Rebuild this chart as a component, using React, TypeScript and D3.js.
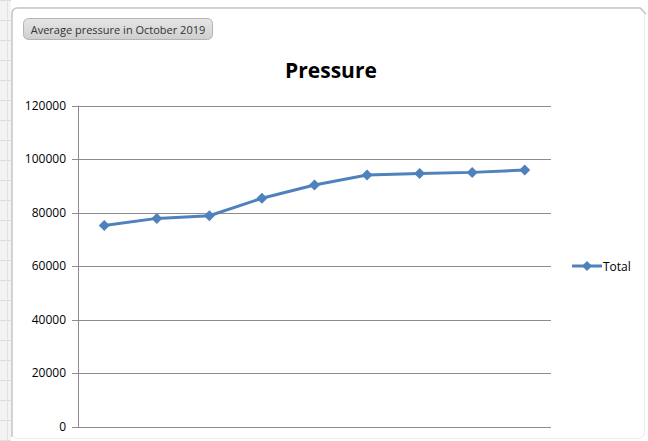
import React from "react";
import * as d3 from "d3";

const categories = ["1", "2", "3", "4", "5", "6", "7", "8", "9"];
const totalValues = [75100, 77800, 78800, 85300, 90300, 94000, 94600, 95000, 95900];
const yTicks = [0, 20000, 40000, 60000, 80000, 100000, 120000];
const seriesName = "Total";
const chartTitle = "Pressure";
const buttonLabel = "Average pressure in October 2019";

const W = 648;
const H = 441;
const plot = { left: 78, right: 551, top: 105.5, bottom: 426.5 };
const blue = "#4f81bd";
const font = "'Open Sans', 'DejaVu Sans', sans-serif";

function diamond(cx: number, cy: number, r: number) {
  return `M${cx},${cy - r}L${cx + r},${cy}L${cx},${cy + r}L${cx - r},${cy}Z`;
}

export default function App() {
  const x = d3.scaleBand<string>().domain(categories).range([plot.left, plot.right]);
  const y = d3.scaleLinear().domain([0, 120000]).range([plot.bottom, plot.top]);
  const line = d3
    .line<number>()
    .x((_, i) => (x(categories[i]) as number) + x.bandwidth() / 2)
    .y((d) => y(d));

  const stripLines = d3.range(0, H, 20);

  return (
    <div style={{ position: "absolute", left: 0, top: 0 }}>
      <svg width={W} height={H} style={{ display: "block" }}>
        <defs>
          <linearGradient id="btn" x1="0" y1="0" x2="0" y2="1">
            <stop offset="0" stopColor="#e6e6e6" />
            <stop offset="1" stopColor="#cfcfcf" />
          </linearGradient>
        </defs>
        <rect x={0} y={0} width={W} height={H} fill="#ffffff" />
        {/* spreadsheet strip on the left */}
        <rect x={0} y={0} width={11} height={H} fill="#f3f3f3" />
        {stripLines.map((v) => (
          <line key={v} x1={0} x2={11} y1={v + 0.5} y2={v + 0.5} stroke="#dedede" />
        ))}
        <line x1={7.5} x2={7.5} y1={0} y2={H} stroke="#e2e2e2" />
        {/* chart frame */}
        <rect x={11.5} y={7.5} width={633} height={431} rx={6} fill="#ffffff" stroke="#ececec" strokeWidth={1} />
        <path d="M12,437 L12,14 Q12,8 18,8 L640,8 L646,14" fill="none" stroke="#c6c6c6" strokeWidth={1.5} />

        {/* button */}
        <rect x={23.5} y={18.5} width={189} height={21} rx={5} fill="url(#btn)" stroke="#b4b4b4" />
        <text x={118} y={33.5} textAnchor="middle" fontFamily={font} fontSize={11} fill="#333">
          {buttonLabel}
        </text>

        {/* title */}
        <text x={331} y={78} textAnchor="middle" fontFamily={font} fontSize={21} fontWeight="bold" fill="#000">
          {chartTitle}
        </text>

        {/* gridlines and ticks */}
        {yTicks.map((t) => (
          <g key={t}>
            <line x1={plot.left - 6} x2={plot.right} y1={Math.round(y(t)) + 0.5} y2={Math.round(y(t)) + 0.5} stroke="#8c8c8c" />
            <text x={66} y={y(t) + 4} textAnchor="end" fontFamily={font} fontSize={12} fill="#000">
              {t}
            </text>
          </g>
        ))}
        <line x1={plot.left + 0.5} x2={plot.left + 0.5} y1={plot.top} y2={plot.bottom + 1} stroke="#8c8c8c" />

        {/* series */}
        <path d={line(totalValues) || ""} fill="none" stroke={blue} strokeWidth={3} strokeLinejoin="round" />
        {totalValues.map((v, i) => (
          <path key={i} d={diamond((x(categories[i]) as number) + x.bandwidth() / 2, y(v), 5.5)} fill={blue} />
        ))}

        {/* legend */}
        <line x1={572} x2={602} y1={266} y2={266} stroke={blue} strokeWidth={3} />
        <path d={diamond(587, 266, 5)} fill={blue} />
        <text x={603} y={270.5} fontFamily={font} fontSize={12} fill="#000">
          {seriesName}
        </text>
      </svg>
    </div>
  );
}
